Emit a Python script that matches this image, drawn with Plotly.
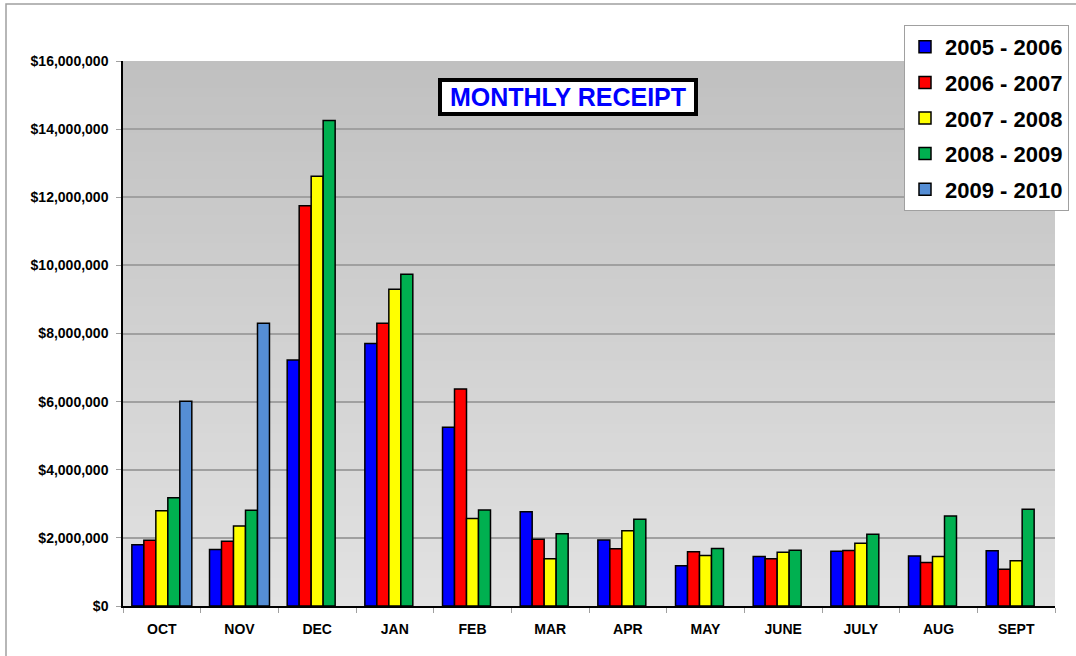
import plotly.graph_objects as go

months = ["OCT", "NOV", "DEC", "JAN", "FEB", "MAR", "APR", "MAY", "JUNE", "JULY", "AUG", "SEPT"]
fy_2005_2006 = [1800000, 1660000, 7220000, 7710000, 5250000, 2770000, 1940000, 1180000, 1450000, 1610000, 1470000, 1620000]
fy_2006_2007 = [1930000, 1900000, 11750000, 8300000, 6370000, 1960000, 1680000, 1590000, 1390000, 1630000, 1280000, 1080000]
fy_2007_2008 = [2800000, 2350000, 12620000, 9300000, 2570000, 1390000, 2210000, 1480000, 1580000, 1840000, 1450000, 1330000]
fy_2008_2009 = [3180000, 2810000, 14250000, 9740000, 2820000, 2120000, 2550000, 1690000, 1640000, 2110000, 2640000, 2840000]
fy_2009_2010 = [6010000, 8300000, None, None, None, None, None, None, None, None, None, None]

series = [
    ("2005 - 2006", fy_2005_2006, "#0000FF"),
    ("2006 - 2007", fy_2006_2007, "#FF0000"),
    ("2007 - 2008", fy_2007_2008, "#FFFF00"),
    ("2008 - 2009", fy_2008_2009, "#00B050"),
    ("2009 - 2010", fy_2009_2010, "#558ED5"),
]

fig = go.Figure()
for i, (name, vals, color) in enumerate(series):
    fig.add_trace(go.Bar(
        x=months, y=vals, name=name, legendgroup=f"g{i}",
        marker=dict(color=color, line=dict(color="#000000", width=1.5)),
    ))

FONT = "Liberation Sans, Arial, sans-serif"

# gradient plot background (overlapping bands to avoid seams)
shapes = []
n = 60
c_top, c_bot = 192, 226
for k in range(n):
    t = (k + 0.5) / n
    c = round(c_bot + (c_top - c_bot) * t)
    shapes.append(dict(type="rect", xref="x domain", yref="y domain",
                       x0=0, x1=1, y0=k / n, y1=min(1.0, (k + 1.6) / n),
                       fillcolor=f"rgb({c},{c},{c})", line=dict(width=0), layer="below"))
# outer chart border
shapes.append(dict(type="rect", xref="paper", yref="paper",
                   x0=(6 - 123) / 932, x1=(1085 - 123) / 932,
                   y0=(606 - 665) / 545, y1=(606 - 4) / 545,
                   line=dict(color="#A0A0A0", width=1.5), fillcolor="rgba(0,0,0,0)", layer="below"))

fig.update_layout(
    width=1076, height=656,
    margin=dict(l=123, r=21, t=61, b=50, autoexpand=False),
    paper_bgcolor="white",
    plot_bgcolor="rgba(0,0,0,0)",
    barmode="group",
    bargap=0.228,
    bargroupgap=0,
    font=dict(family=FONT, color="black"),
    shapes=shapes,
    showlegend=True,
    legend=dict(
        x=(904 - 123) / 932, xanchor="left",
        y=(606 - 25) / 545, yanchor="top",
        bgcolor="white", bordercolor="#A0A0A0", borderwidth=1,
        font=dict(family=FONT, size=22, color="black", weight="bold"),
        traceorder="grouped", tracegroupgap=4,
    ),
    annotations=[dict(
        text="<b>MONTHLY RECEIPT</b>", xref="paper", yref="paper",
        x=(568 - 123) / 932, y=(606 - 97) / 545, xanchor="center", yanchor="middle",
        showarrow=False, font=dict(family=FONT, size=25, color="#0000FF"),
        width=250, height=28, align="center", valign="middle",
        bgcolor="white", bordercolor="black", borderwidth=4, borderpad=1,
    )],
)

fig.update_xaxes(
    type="category", showgrid=False,
    showline=True, linecolor="black", linewidth=1.5,
    ticks="outside", tickson="boundaries", ticklen=5, tickcolor="#A0A0A0",
    ticklabelstandoff=9,
    tickfont=dict(family=FONT, size=14, color="black", weight="bold"),
)
fig.update_yaxes(
    range=[0, 16000000], dtick=2000000, tickformat="$,.0f",
    showgrid=True, gridcolor="#A0A0A0", gridwidth=1.5,
    showline=True, linecolor="black", linewidth=1.5,
    ticks="outside", ticklen=5, tickcolor="#A0A0A0",
    ticklabelstandoff=5,
    tickfont=dict(family=FONT, size=14, color="black", weight="bold"),
    zeroline=False,
)

fig.write_html("out.html", config={"displayModeBar": False},
               post_script="document.body.style.margin='0';")
